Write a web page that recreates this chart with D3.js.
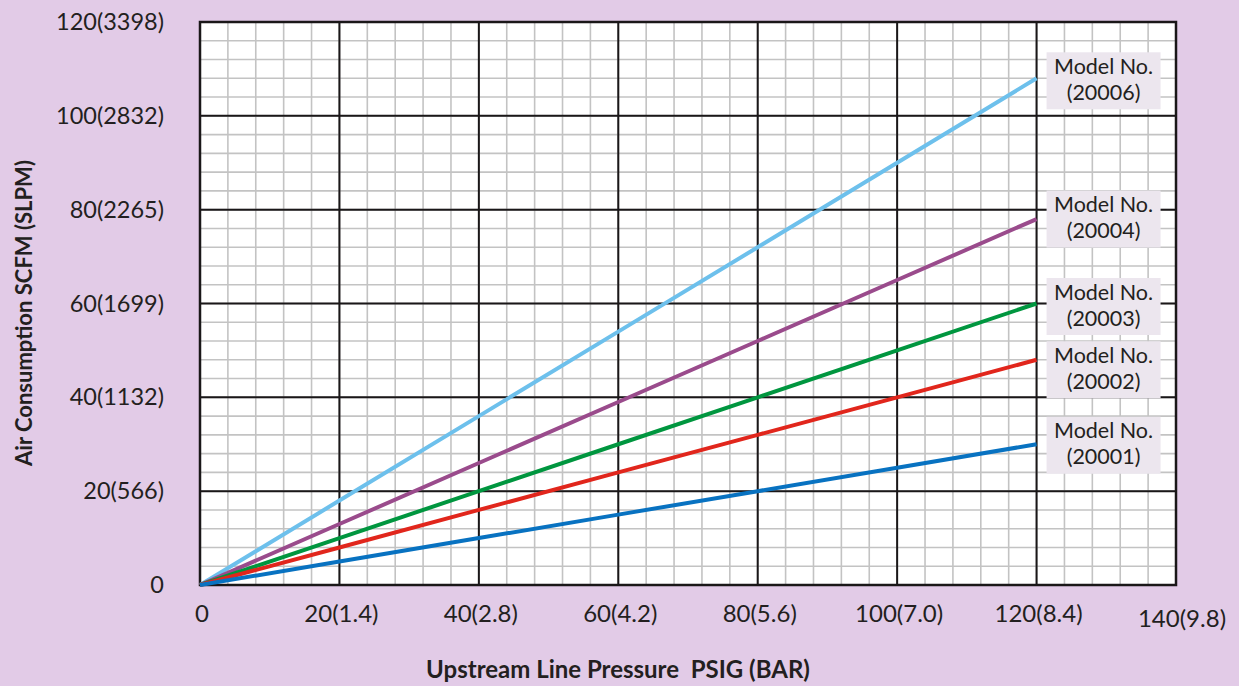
<!DOCTYPE html>
<html>
<head>
<meta charset="utf-8">
<script src="https://cdn.jsdelivr.net/npm/d3@7"></script>
<style>
  html, body { margin: 0; padding: 0; background: #e2cbe7; }
  svg { display: block; }
  text { font-family: Lato, "Open Sans", sans-serif; fill: #231f20; }
</style>
</head>
<body>
<svg id="chart" width="1239" height="686"></svg>
<script>
// ---- data ----
const pressure = [0, 20, 40, 60, 80, 100, 120];
const model20006 = [0, 18, 36, 54, 72, 90, 108];
const model20004 = [0, 13, 26, 39, 52, 65, 78];
const model20003 = [0, 10, 20, 30, 40, 50, 60];
const model20002 = [0, 8, 16, 24, 32, 40, 48];
const model20001 = [0, 5, 10, 15, 20, 25, 30];
const modelNames = ["20006", "20004", "20003", "20002", "20001"];
const xTickLabels = ["0", "20(1.4)", "40(2.8)", "60(4.2)", "80(5.6)", "100(7.0)", "120(8.4)", "140(9.8)"];
const yTickLabels = ["0", "20(566)", "40(1132)", "60(1699)", "80(2265)", "100(2832)", "120(3398)"];
const xTickValues = [0, 20, 40, 60, 80, 100, 120, 140];
const yTickValues = [0, 20, 40, 60, 80, 100, 120];

// ---- layout / style ----
const colors = ["#6dc0ec", "#9a4b8c", "#00963f", "#e1261c", "#0872c1"];
const labelDy = [2.5, 0, 3, 10, 1];
const series = [model20006, model20004, model20003, model20002, model20001];

const svg = d3.select("#chart");
const x = d3.scaleLinear().domain([0, 140]).range([200, 1176]);
const y = d3.scaleLinear().domain([0, 120]).range([585, 22]);

// plot background
svg.append("rect").attr("x", x(0)).attr("y", y(120))
  .attr("width", x(140) - x(0)).attr("height", y(0) - y(120)).attr("fill", "#ffffff");

// minor grid
const gMinor = svg.append("g");
gMinor.selectAll("line.vx").data(d3.range(0, 141, 4)).join("line")
  .attr("x1", d => x(d)).attr("x2", d => x(d)).attr("y1", y(0)).attr("y2", y(120))
  .attr("stroke", "#c3c3c3").attr("stroke-width", 1.6);
gMinor.selectAll("line.hy").data(d3.range(0, 121, 4)).join("line")
  .attr("y1", d => y(d)).attr("y2", d => y(d)).attr("x1", x(0)).attr("x2", x(140))
  .attr("stroke", "#c3c3c3").attr("stroke-width", 1.6);

// major grid
const gMajor = svg.append("g");
gMajor.selectAll("line.mx").data(xTickValues).join("line")
  .attr("x1", d => x(d)).attr("x2", d => x(d)).attr("y1", y(0)).attr("y2", y(120))
  .attr("stroke", "#1a1718").attr("stroke-width", 2);
gMajor.selectAll("line.my").data(yTickValues).join("line")
  .attr("y1", d => y(d)).attr("y2", d => y(d)).attr("x1", x(0)).attr("x2", x(140))
  .attr("stroke", "#1a1718").attr("stroke-width", 2);

// border
svg.append("rect").attr("x", x(0)).attr("y", y(120))
  .attr("width", x(140) - x(0)).attr("height", y(0) - y(120))
  .attr("fill", "none").attr("stroke", "#1a1718").attr("stroke-width", 2.5);

// lines
const line = d3.line().x((d, i) => x(pressure[i])).y(d => y(d));
series.forEach((s, k) => {
  svg.append("path").datum(s).attr("d", line)
    .attr("fill", "none").attr("stroke", colors[k]).attr("stroke-width", 4)
    .attr("stroke-linecap", "butt");
});

// labels
series.forEach((s, k) => {
  const last = s[s.length - 1];
  const cx = x(pressure[pressure.length - 1]) + 67;
  const cy = y(last) + labelDy[k];
  const g = svg.append("g");
  g.append("rect").attr("x", cx - 57).attr("y", cy - 28.5).attr("width", 114).attr("height", 57)
    .attr("fill", "#ece6ee");
  g.append("text").attr("x", cx).attr("y", cy - 7).attr("text-anchor", "middle")
    .attr("font-size", 21.5).text("Model No.");
  g.append("text").attr("x", cx).attr("y", cy + 19).attr("text-anchor", "middle")
    .attr("font-size", 21.5).text("(" + modelNames[k] + ")");
});

// x tick labels
svg.append("g").selectAll("text").data(xTickValues).join("text")
  .attr("x", (d, i) => x(d) + (i === xTickValues.length - 1 ? 6 : 2))
  .attr("y", (d, i) => i === xTickValues.length - 1 ? 627 : 622)
  .attr("text-anchor", "middle").attr("font-size", 24)
  .text((d, i) => xTickLabels[i]);

// y tick labels
svg.append("g").selectAll("text").data(yTickValues).join("text")
  .attr("x", 164).attr("y", d => y(d) + 8)
  .attr("text-anchor", "end").attr("font-size", 23.5)
  .text((d, i) => yTickLabels[i]);

// axis titles
svg.append("text").attr("x", 618).attr("y", 678).attr("text-anchor", "middle")
  .attr("font-size", 24).attr("font-weight", "bold").attr("xml:space", "preserve")
  .text("Upstream Line Pressure  PSIG (BAR)");
svg.append("text").attr("transform", "translate(32,313) rotate(-90)")
  .attr("text-anchor", "middle").attr("font-size", 22).attr("font-weight", "bold")
  .text("Air Consumption SCFM (SLPM)");
</script>
</body>
</html>
